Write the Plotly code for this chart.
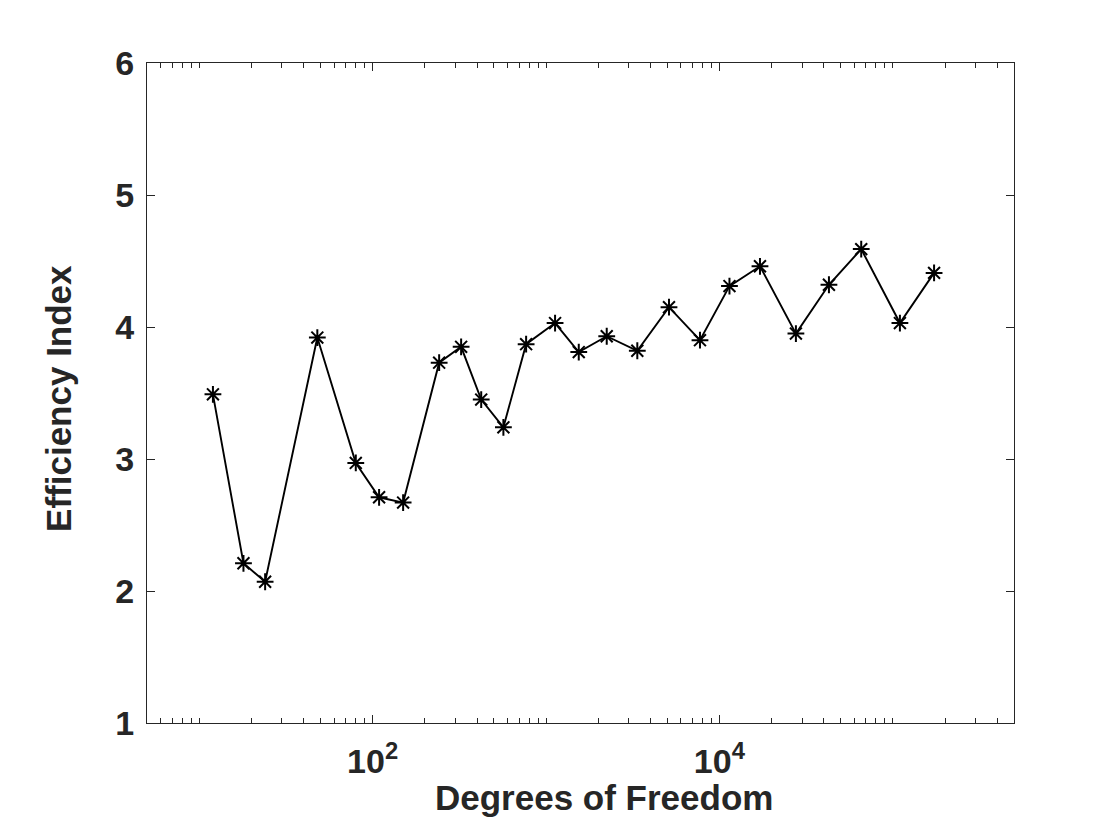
import math
import plotly.graph_objects as go

# Data
dof = [12, 18, 24, 48, 80, 109, 150, 242, 324, 423, 568, 768, 1128, 1545,
       2240, 3362, 5120, 7727, 11430, 17140, 27620, 42830, 65760, 109900, 173000]
eff = [3.49, 2.21, 2.07, 3.92, 2.97, 2.71, 2.67, 3.73, 3.85, 3.45, 3.24, 3.87,
       4.03, 3.81, 3.93, 3.82, 4.15, 3.90, 4.31, 4.46, 3.95, 4.32, 4.59, 4.03, 4.41]

x_major = [100, 10000]
x_major_text = ["<b>10<sup>2</sup></b>", "<b>10<sup>4</sup></b>"]
x_minor = [m * 10 ** d for d in range(0, 6) for m in range(1, 10)
           if 5 <= m * 10 ** d <= 500000 and m * 10 ** d not in (100, 10000)]
y_ticks = [1, 2, 3, 4, 5, 6]

x_title = "Degrees of Freedom"
y_title = "Efficiency Index"

ink = "#262626"
fam = "Liberation Sans, Arial, Helvetica, sans-serif"
tick_size = 34
title_size = 35

fig = go.Figure(go.Scatter(
    x=dof, y=eff, mode="lines+markers",
    line=dict(color="black", width=1.9),
    marker=dict(symbol="asterisk-open", size=14, color="black",
                line=dict(color="black", width=2)),
    showlegend=False,
))

fig.update_layout(
    width=1120, height=840,
    margin=dict(l=139, r=114, t=55, b=125),
    paper_bgcolor="white", plot_bgcolor="white",
    font=dict(family=fam, size=tick_size, color=ink),
)
fig.update_xaxes(
    type="log", range=[math.log10(5), math.log10(500000)],
    tickmode="array", tickvals=x_major, ticktext=x_major_text,
    ticks="inside", ticklen=8, tickwidth=1, tickcolor=ink,
    minor=dict(tickmode="array", tickvals=x_minor, ticks="inside",
               ticklen=5, tickwidth=1, tickcolor=ink, showgrid=False),
    showline=True, linecolor=ink, linewidth=1.2, mirror="ticks",
    showgrid=False, zeroline=False, ticklabelstandoff=8,
    tickfont=dict(size=tick_size, color=ink, family=fam),
)
fig.update_yaxes(
    range=[1, 6], tickmode="array", tickvals=y_ticks,
    ticktext=[f"<b>{v}</b>" for v in y_ticks],
    ticks="inside", ticklen=8, tickwidth=1, tickcolor=ink,
    showline=True, linecolor=ink, linewidth=1.2, mirror="ticks",
    showgrid=False, zeroline=False, ticklabelstandoff=5,
    tickfont=dict(size=tick_size, color=ink, family=fam),
)

fig.add_annotation(
    text=f"<b>{x_title}</b>", xref="paper", yref="paper",
    x=0.5, y=0, xanchor="center", yanchor="middle",
    xshift=23, yshift=-74, showarrow=False,
    font=dict(size=title_size, color=ink, family=fam),
)
fig.add_annotation(
    text=f"<b>{y_title}</b>", xref="paper", yref="paper",
    x=0, y=0.491, xanchor="center", yanchor="middle", textangle=-90,
    xshift=-88, showarrow=False,
    font=dict(size=title_size, color=ink, family=fam),
)

fig.write_html("out.html")
